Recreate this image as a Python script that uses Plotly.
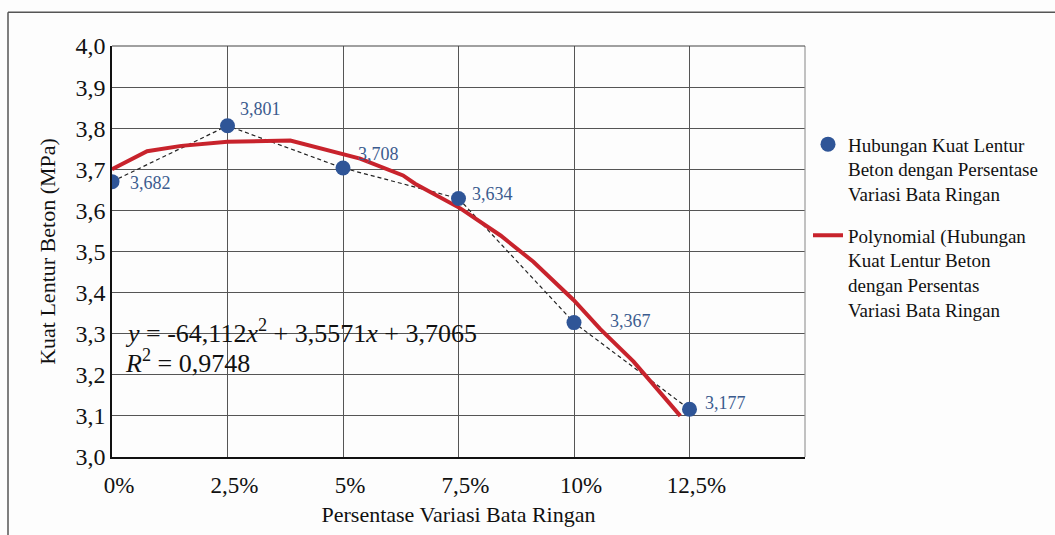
import plotly.graph_objects as go

# ---- data ----
x_pct = [0, 2.5, 5, 7.5, 10, 12.5]
y_obs = [3.670, 3.806, 3.703, 3.629, 3.327, 3.116]
point_labels = ["3,682", "3,801", "3,708", "3,634", "3,367", "3,177"]

curve_x = [0, 0.76, 1.5, 2.5, 3.86, 5.37, 6.3, 6.56, 7.54, 8.41, 9.12, 9.99, 10.57, 11.29, 12.3]
curve_y = [3.700, 3.744, 3.757, 3.767, 3.770, 3.726, 3.685, 3.665, 3.605, 3.539, 3.475, 3.382, 3.311, 3.232, 3.100]

x_tickvals = [0, 2.5, 5, 7.5, 10, 12.5, 15]
x_ticktext = ["0%", "2,5%", "5%", "7,5%", "10%", "12,5%", ""]
y_tickvals = [3.0, 3.1, 3.2, 3.3, 3.4, 3.5, 3.6, 3.7, 3.8, 3.9, 4.0]
y_ticktext = ["3,0", "3,1", "3,2", "3,3", "3,4", "3,5", "3,6", "3,7", "3,8", "3,9", "4,0"]

label_dx = [16, 10, 13, 11, 34, 13]
label_dy = [-1, 17, 14, 4, 2, 6]

FONT = "Liberation Serif"
BLUE = "#2F5597"
RED = "#C8232C"

fig = go.Figure()

# dashed connector
fig.add_trace(go.Scatter(x=x_pct, y=y_obs, mode="lines",
                         line=dict(color="#222222", width=1.2, dash="4px,3px"),
                         showlegend=False, hoverinfo="skip"))
# polynomial trendline
fig.add_trace(go.Scatter(x=curve_x, y=curve_y, mode="lines",
                         line=dict(color=RED, width=4),
                         name="Polynomial (Hubungan<br>Kuat Lentur Beton<br>dengan Persentas<br>Variasi Bata Ringan",
                         legendgroup="b", legendrank=2))
# points
fig.add_trace(go.Scatter(x=x_pct, y=y_obs, mode="markers",
                         marker=dict(color=BLUE, size=15),
                         name="Hubungan Kuat Lentur<br>Beton dengan Persentase<br>Variasi Bata Ringan",
                         legendgroup="a", legendrank=1))

annotations = []
for xv, yv, t, dx, dy in zip(x_pct, y_obs, point_labels, label_dx, label_dy):
    annotations.append(dict(x=xv, y=yv, text=t, showarrow=False, xanchor="left",
                            yanchor="middle", xshift=dx, yshift=dy,
                            font=dict(family=FONT, size=18, color="#3B5B8E")))

annotations.append(dict(xref="paper", yref="paper", x=(123 - 112) / 693, y=(456.7 - 331) / 411,
                        xanchor="left", yanchor="middle", showarrow=False,
                        text="<i>y</i> = -64,112<i>x</i><sup>2</sup> + 3,5571<i>x</i> + 3,7065",
                        font=dict(family=FONT, size=26, color="#111111")))
annotations.append(dict(xref="paper", yref="paper", x=(123 - 112) / 693, y=(456.7 - 361) / 411,
                        xanchor="left", yanchor="middle", showarrow=False,
                        text="<i>R</i><sup>2</sup> = 0,9748",
                        font=dict(family=FONT, size=26, color="#111111")))

shapes = [
    # outer frame (top and left)
    dict(type="line", xref="paper", yref="paper", x0=(8 - 112) / 693, x1=(1055 - 112) / 693,
         y0=(456.7 - 12) / 411, y1=(456.7 - 12) / 411, line=dict(color="#555555", width=1.5)),
    dict(type="line", xref="paper", yref="paper", x0=(8 - 112) / 693, x1=(8 - 112) / 693,
         y0=(456.7 - 12) / 411, y1=(456.7 - 540) / 411, line=dict(color="#555555", width=1.5)),
    # plot right / top edges
    dict(type="line", xref="paper", yref="paper", x0=1, x1=1, y0=0, y1=1,
         line=dict(color="#999999", width=1.2)),
    dict(type="line", xref="paper", yref="paper", x0=0, x1=1, y0=1, y1=1,
         line=dict(color="#444444", width=1.2)),
]

fig.update_layout(
    width=1055, height=535,
    margin=dict(l=112, r=250, t=46, b=78),
    paper_bgcolor="#FDFDFD", plot_bgcolor="#FDFDFD",
    font=dict(family=FONT, color="#111111"),
    showlegend=True,
    legend=dict(x=1.0 + 3 / 693, y=(456.7 - 125) / 411, xanchor="left", yanchor="top",
                font=dict(family=FONT, size=19, color="#111111"),
                tracegroupgap=14, bgcolor="rgba(0,0,0,0)", itemwidth=30, valign="top"),
    xaxis=dict(range=[0, 15], tickvals=x_tickvals, ticktext=x_ticktext,
               showgrid=True, gridcolor="#555555", gridwidth=1,
               showline=True, linecolor="#111111", linewidth=2,
               ticks="", zeroline=False, ticklabelshift=7, ticklabelstandoff=6,
               tickfont=dict(family=FONT, size=23, color="#111111"),
               title=dict(text="Persentase Variasi Bata Ringan", standoff=10,
                          font=dict(family=FONT, size=22, color="#111111"))),
    yaxis=dict(range=[3.0, 4.0], tickvals=y_tickvals, ticktext=y_ticktext,
               showgrid=True, gridcolor="#555555", gridwidth=1,
               showline=True, linecolor="#111111", linewidth=1.5,
               ticks="", zeroline=False,
               tickfont=dict(family=FONT, size=24, color="#111111"),
               title=dict(text="Kuat Lentur Beton (MPa)", standoff=14,
                          font=dict(family=FONT, size=22, color="#111111"))),
    annotations=annotations,
    shapes=shapes,
)

fig.write_html("out.html")
